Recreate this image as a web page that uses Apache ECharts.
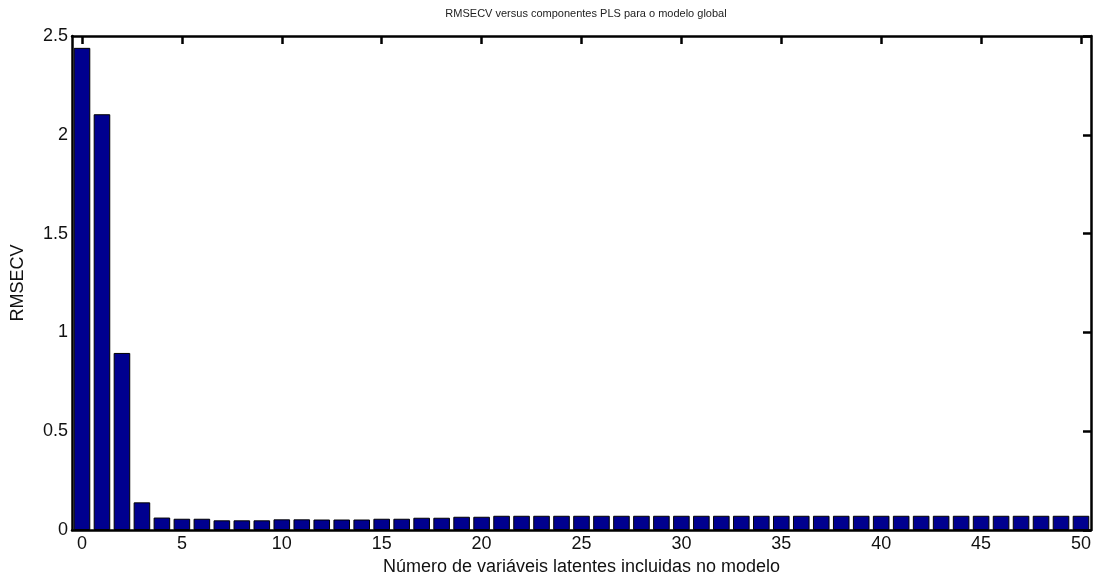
<!DOCTYPE html>
<html>
<head>
<meta charset="utf-8">
<script src="https://cdn.jsdelivr.net/npm/echarts@6/dist/echarts.min.js"></script>
<style>html,body{margin:0;padding:0;background:#fff;}#c{width:1094px;height:581px;}</style>
</head>
<body>
<div id="c"></div>
<script>
const titleText = 'RMSECV versus componentes PLS para o modelo global';
const xName = 'Número de variáveis latentes incluidas no modelo';
const yName = 'RMSECV';
const categories = ['0','1','2','3','4','5','6','7','8','9','10','11','12','13','14','15','16','17','18','19','20','21','22','23','24','25','26','27','28','29','30','31','32','33','34','35','36','37','38','39','40','41','42','43','44','45','46','47','48','49','50'];
const rmsecv = [2.44, 2.104, 0.896, 0.14, 0.063, 0.057, 0.057, 0.049, 0.049, 0.049,
  0.054, 0.054, 0.053, 0.053, 0.053, 0.057, 0.057, 0.062, 0.062, 0.067,
  0.067, 0.072, 0.072, 0.072, 0.072, 0.072, 0.072, 0.072, 0.072, 0.072,
  0.072, 0.072, 0.072, 0.072, 0.072, 0.072, 0.072, 0.072, 0.072, 0.072,
  0.072, 0.072, 0.072, 0.072, 0.072, 0.072, 0.072, 0.072, 0.072, 0.072, 0.072];
const yTicks = {min: 0, max: 2.5, interval: 0.5};

const chart = echarts.init(document.getElementById('c'));
const every5 = function (i) { return i % 5 === 0; };
const font = 'Liberation Sans, Arial, sans-serif';
const lineStyle = {color: '#000', width: 2.5};
chart.setOption({
  backgroundColor: '#fff',
  animation: false,
  title: {
    text: titleText, left: 581, top: 3, textAlign: 'center',
    textStyle: {fontSize: 11, fontWeight: 'normal', color: '#222', fontFamily: font}
  },
  grid: {left: 72, right: 3, top: 36, bottom: 49, containLabel: false},
  xAxis: [{
    type: 'category', data: categories, position: 'bottom', z: 10,
    boundaryGap: true,
    axisLine: {show: true, lineStyle: lineStyle, onZero: false},
    axisTick: {show: false},
    axisLabel: {interval: every5, fontSize: 18, color: '#111', margin: 5, fontFamily: font},
    splitLine: {show: false},
    name: xName, nameLocation: 'middle', nameGap: 28,
    nameTextStyle: {fontSize: 18, color: '#111', fontFamily: font}
  }, {
    type: 'category', data: categories, position: 'top', z: 10,
    boundaryGap: true,
    axisLine: {show: true, lineStyle: lineStyle, onZero: false},
    axisTick: {show: true, inside: true, length: 8, alignWithLabel: true, interval: every5, lineStyle: lineStyle},
    axisLabel: {show: false},
    splitLine: {show: false}
  }],
  yAxis: [{
    type: 'value', min: yTicks.min, max: yTicks.max, interval: yTicks.interval, position: 'left', z: 10,
    axisLine: {show: true, lineStyle: lineStyle, onZero: false},
    axisTick: {show: false},
    axisLabel: {fontSize: 18, color: '#111', margin: 4, fontFamily: font},
    splitLine: {show: false},
    name: yName, nameLocation: 'middle', nameGap: 45, nameRotate: 90,
    nameTextStyle: {fontSize: 18, color: '#111', fontFamily: font}
  }, {
    type: 'value', min: yTicks.min, max: yTicks.max, interval: yTicks.interval, position: 'right', z: 10,
    axisLine: {show: true, lineStyle: lineStyle, onZero: false},
    axisTick: {show: true, inside: true, length: 8, lineStyle: lineStyle},
    axisLabel: {show: false},
    splitLine: {show: false}
  }],
  series: [{
    type: 'bar', data: rmsecv, xAxisIndex: 0, yAxisIndex: 0,
    barWidth: '83%',
    itemStyle: {color: '#00008F', borderColor: '#000', borderWidth: 1}
  }]
});
</script>
</body>
</html>
